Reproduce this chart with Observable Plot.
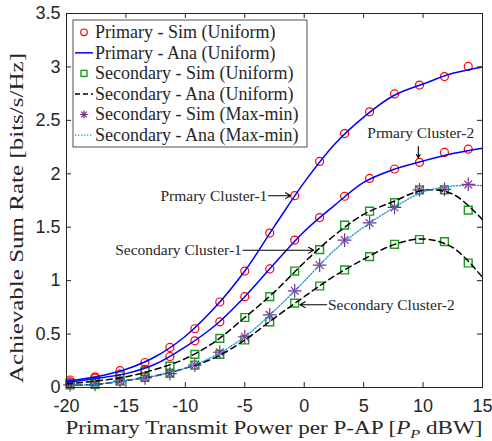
<!DOCTYPE html>
<html><head><meta charset="utf-8">
<script src="https://cdn.jsdelivr.net/npm/d3@7"></script>
<script src="https://cdn.jsdelivr.net/npm/@observablehq/plot@0.6"></script>
<style>body{margin:0;background:#fff}</style>
</head><body><div id="chart"></div>
<script>
// ---- data ----
const xSim = [-19.7,-17.6,-15.5,-13.4,-11.3,-9.2,-7.1,-5.0,-2.9,-0.8,1.3,3.4,5.5,7.6,9.7,11.8,13.8];
const primary1Sim   = [0.07,0.10,0.157,0.234,0.375,0.55,0.80,1.09,1.445,1.795,2.116,2.376,2.58,2.747,2.83,2.91,3.005];
const primary2Sim   = [0.053,0.088,0.125,0.17,0.29,0.437,0.615,0.85,1.11,1.38,1.59,1.79,1.957,2.045,2.107,2.20,2.23];
const secondary1Sim = [0.04,0.06,0.11,0.15,0.20,0.31,0.46,0.655,0.85,1.09,1.29,1.52,1.65,1.73,1.85,1.85,1.66];
const secondary2Sim = [0.025,0.03,0.06,0.095,0.135,0.21,0.31,0.445,0.615,0.79,0.95,1.10,1.225,1.34,1.385,1.365,1.165];
const maxminSim     = [0.025,0.03,0.06,0.09,0.13,0.21,0.33,0.475,0.68,0.905,1.146,1.38,1.54,1.685,1.85,1.855,1.90];

const xAna = [-20,-17.5,-15,-12.5,-10,-7.5,-5,-2.5,0,2.5,5,7.5,10,12.5,15];
const primary1Ana   = [0.06,0.10,0.17,0.29,0.48,0.75,1.09,1.51,1.92,2.27,2.53,2.73,2.84,2.94,3.00];
const primary2Ana   = [0.05,0.085,0.13,0.22,0.38,0.58,0.85,1.16,1.46,1.70,1.92,2.04,2.12,2.19,2.24];
const secondary1Ana = [0.035,0.06,0.10,0.17,0.27,0.43,0.655,0.895,1.17,1.42,1.62,1.74,1.845,1.81,1.57];
const secondary2Ana = [0.02,0.03,0.065,0.11,0.18,0.28,0.445,0.65,0.85,1.04,1.20,1.335,1.39,1.31,1.03];
const maxminAna     = [0.02,0.03,0.065,0.11,0.18,0.30,0.475,0.72,0.995,1.28,1.50,1.68,1.83,1.885,1.89];

const xTicks = [-20,-15,-10,-5,0,5,10,15];
const yTicks = [0,0.5,1,1.5,2,2.5,3,3.5];
const legendLabels = ["Primary - Sim (Uniform)","Primary - Ana (Uniform)","Secondary - Sim (Uniform)","Secondary - Ana (Uniform)","Secondary - Sim (Max-min)","Secondary - Ana (Max-min)"];
const annotations = [
  {x: -3.1, y: 1.795, text: "Prmary Cluster-1", anchor: "end"},
  {x: -5.25, y: 1.285, text: "Secondary Cluster-1", anchor: "end"},
  {x: 2.0, y: 0.775, text: "Secondary Cluster-2", anchor: "start"},
  {x: 9.8, y: 2.385, text: "Prmary Cluster-2", anchor: "middle"}
];
const arrows = [
  {x1: -3.0, y1: 1.795, x2: -1.15, y2: 1.795},
  {x1: -5.15, y1: 1.285, x2: 0.8, y2: 1.285},
  {x1: 1.9, y1: 0.775, x2: -0.35, y2: 0.775},
  {x1: 9.6, y1: 2.255, x2: 9.6, y2: 2.15}
];

// ---- style ----
const RED = "#ff0000", BLUE = "#0000ff", GREEN = "#1a9a1a", PURPLE = "#7e2f8e", CYAN = "#1f93dc", AX = "#262626";
const SERIF = "'Liberation Serif','Times New Roman',serif";
const W = 492, H = 441, ML = 66, MR = 10, MT = 13, MB = 54;
const PW = W - ML - MR, PH = H - MT - MB;

const pts = (xs, ys) => xs.map((x, i) => ({x, y: ys[i]}));

const simMarks = [
  Plot.dot(pts(xSim, primary1Sim), {x: "x", y: "y", r: 4, stroke: RED, strokeWidth: 1.2, fill: "none"}),
  Plot.dot(pts(xSim, primary2Sim), {x: "x", y: "y", r: 4, stroke: RED, strokeWidth: 1.2, fill: "none"}),
  Plot.dot(pts(xSim, secondary1Sim), {x: "x", y: "y", r: 4.4, symbol: "square", stroke: GREEN, strokeWidth: 1.4, fill: "none"}),
  Plot.dot(pts(xSim, secondary2Sim), {x: "x", y: "y", r: 4.4, symbol: "square", stroke: GREEN, strokeWidth: 1.4, fill: "none"}),
  Plot.dot(pts(xSim, maxminSim), {x: "x", y: "y", r: 4.5, symbol: "plus", stroke: PURPLE, strokeWidth: 1.2, fill: "none"}),
  Plot.dot(pts(xSim, maxminSim), {x: "x", y: "y", r: 3.6, symbol: "times", stroke: PURPLE, strokeWidth: 1.2, fill: "none"})
];
const anaMarks = [
  Plot.line(pts(xAna, primary1Ana), {x: "x", y: "y", stroke: BLUE, strokeWidth: 1.5, curve: "catmull-rom"}),
  Plot.line(pts(xAna, primary2Ana), {x: "x", y: "y", stroke: BLUE, strokeWidth: 1.5, curve: "catmull-rom"}),
  Plot.line(pts(xAna, secondary1Ana), {x: "x", y: "y", stroke: "black", strokeWidth: 1.5, strokeDasharray: "6,4", curve: "catmull-rom"}),
  Plot.line(pts(xAna, secondary2Ana), {x: "x", y: "y", stroke: "black", strokeWidth: 1.5, strokeDasharray: "6,4", curve: "catmull-rom"}),
  Plot.line(pts(xAna, maxminAna), {x: "x", y: "y", stroke: CYAN, strokeWidth: 1.3, strokeDasharray: "1.3,1.7", curve: "catmull-rom"})
];

const chart = Plot.plot({
  width: W, height: H,
  marginLeft: ML, marginRight: MR, marginTop: MT, marginBottom: MB,
  style: {fontFamily: "'Liberation Sans',Arial,sans-serif", fontSize: "18px", color: AX, background: "white"},
  x: {domain: [-20, 15], ticks: xTicks, tickSize: 0, tickPadding: 12, tickFormat: d => String(d), label: null},
  y: {domain: [0, 3.5], ticks: yTicks, tickSize: 0, tickPadding: 6, tickFormat: d => String(d), label: null},
  marks: [
    ...simMarks,
    ...anaMarks,
    Plot.tickX(xTicks, {x: d => d, insetTop: PH - 5, stroke: AX}),
    Plot.tickX(xTicks, {x: d => d, insetBottom: PH - 5, stroke: AX}),
    Plot.tickY(yTicks, {y: d => d, insetRight: PW - 5, stroke: AX}),
    Plot.tickY(yTicks, {y: d => d, insetLeft: PW - 5, stroke: AX}),
    Plot.frame({stroke: AX, strokeWidth: 1}),
    Plot.arrow(arrows, {x1: "x1", y1: "y1", x2: "x2", y2: "y2", stroke: "black", strokeWidth: 1.1, headLength: 8}),
    Plot.text(annotations.filter(d => d.anchor === "end"), {x: "x", y: "y", text: "text", textAnchor: "end", fontFamily: SERIF, fontSize: 15.5, fill: AX}),
    Plot.text(annotations.filter(d => d.anchor === "start"), {x: "x", y: "y", text: "text", textAnchor: "start", fontFamily: SERIF, fontSize: 15.5, fill: AX}),
    Plot.text(annotations.filter(d => d.anchor === "middle"), {x: "x", y: "y", text: "text", textAnchor: "middle", fontFamily: SERIF, fontSize: 15.5, fill: AX})
  ]
});
document.getElementById("chart").appendChild(chart);

// ---- axis labels & legend ----
const svg = d3.select(chart);
const xl = svg.append("text").attr("x", ML + PW / 2).attr("y", 434).attr("text-anchor", "middle")
  .attr("font-family", SERIF).attr("font-size", 19).attr("fill", AX)
  .attr("textLength", 417).attr("lengthAdjust", "spacingAndGlyphs");
xl.append("tspan").text("Primary Transmit Power per P-AP [");
xl.append("tspan").attr("font-style", "italic").text("P");
xl.append("tspan").attr("font-style", "italic").attr("font-size", 13.5).attr("dy", 4).text("P");
xl.append("tspan").attr("dy", -4).text(" dBW]");

svg.append("text").attr("transform", "translate(23,218) rotate(-90)").attr("text-anchor", "middle")
  .attr("font-family", SERIF).attr("font-size", 19).attr("fill", AX)
  .attr("textLength", 330).attr("lengthAdjust", "spacingAndGlyphs")
  .text("Achievable Sum Rate [bits/s/Hz]");

const lg = svg.append("g");
lg.append("rect").attr("x", 73).attr("y", 20).attr("width", 234).attr("height", 127)
  .attr("fill", "white").attr("stroke", AX).attr("stroke-width", 0.8);
legendLabels.forEach((lab, i) => {
  const cy = 32.3 + i * 20.55;
  const g = lg.append("g");
  if (i === 0) g.append("circle").attr("cx", 84).attr("cy", cy).attr("r", 3.3).attr("fill", "none").attr("stroke", RED).attr("stroke-width", 1.2);
  if (i === 1) g.append("line").attr("x1", 75).attr("x2", 93).attr("y1", cy).attr("y2", cy).attr("stroke", BLUE).attr("stroke-width", 1.5);
  if (i === 2) g.append("rect").attr("x", 81).attr("y", cy - 3).attr("width", 6).attr("height", 6).attr("fill", "none").attr("stroke", GREEN).attr("stroke-width", 1.4);
  if (i === 3) g.append("line").attr("x1", 75).attr("x2", 93).attr("y1", cy).attr("y2", cy).attr("stroke", "black").attr("stroke-width", 1.5).attr("stroke-dasharray", "5,3");
  if (i === 4) {
    g.append("path").attr("d", `M84,${cy-4}V${cy+4}M80,${cy}H88M81.2,${cy-2.8}L86.8,${cy+2.8}M81.2,${cy+2.8}L86.8,${cy-2.8}`)
      .attr("stroke", PURPLE).attr("stroke-width", 1.2).attr("fill", "none");
  }
  if (i === 5) g.append("line").attr("x1", 75).attr("x2", 93).attr("y1", cy).attr("y2", cy).attr("stroke", CYAN).attr("stroke-width", 1.3).attr("stroke-dasharray", "1.3,1.7");
  g.append("text").attr("x", 95).attr("y", cy).attr("dy", "0.32em").attr("text-anchor", "start")
    .attr("font-family", SERIF).attr("font-size", 18).attr("fill", AX).text(lab);
});
</script>
</body></html>
